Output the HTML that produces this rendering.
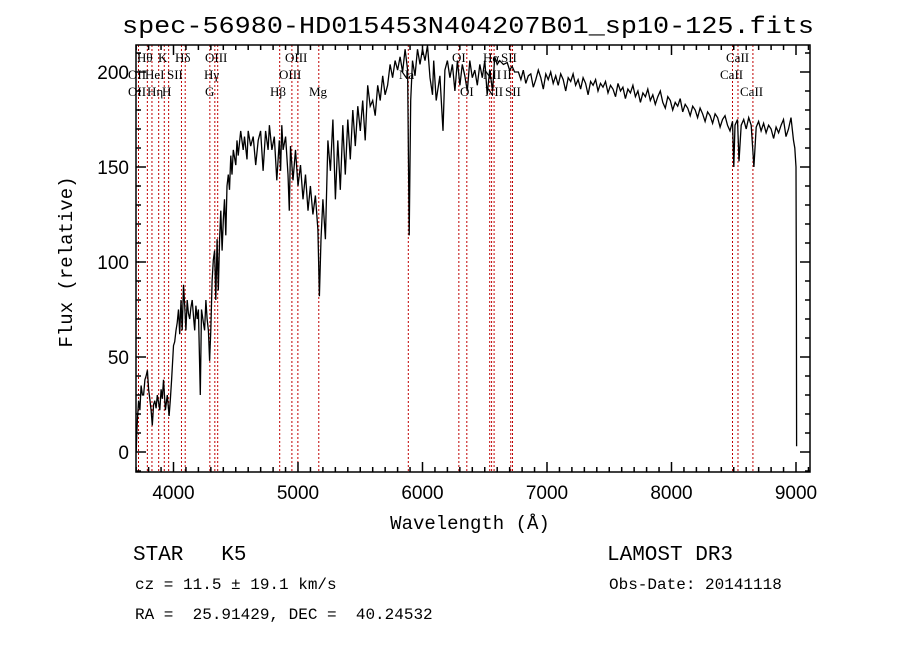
<!DOCTYPE html>
<html><head><meta charset="utf-8"><style>
html,body{margin:0;padding:0;background:#fff;}
svg{display:block;}
text{font-family:"Liberation Serif",serif;fill:#000;white-space:pre;}
.tk{font-family:"Liberation Sans",sans-serif;font-size:19px;}
.mono{font-family:"Liberation Mono",monospace;}
.ln{font-size:13px;}
</style></head><body>
<svg id="chart" width="900" height="649" viewBox="0 0 900 649" xml:space="preserve">
<rect x="0" y="0" width="900" height="649" fill="#fff"/>
<text x="468" y="33" text-anchor="middle" class="mono" font-size="24" textLength="692" lengthAdjust="spacingAndGlyphs">spec-56980-HD015453N404207B01_sp10-125.fits</text>
<g id="lines"></g>
<g id="labels">
<text class="ln" x="137" y="62">Hθ</text>
<text class="ln" x="158" y="62">K</text>
<text class="ln" x="175" y="62">Hδ</text>
<text class="ln" x="205" y="62">OIII</text>
<text class="ln" x="285" y="62">OIII</text>
<text class="ln" x="452" y="62">OI</text>
<text class="ln" x="483" y="62">Hα</text>
<text class="ln" x="501" y="62">SII</text>
<text class="ln" x="726" y="62">CaII</text>
<text class="ln" x="128" y="79">OII</text>
<text class="ln" x="145" y="79">HeI</text>
<text class="ln" x="167" y="79">SII</text>
<text class="ln" x="204" y="79">Hγ</text>
<text class="ln" x="279" y="79">OIII</text>
<text class="ln" x="399" y="79">Na</text>
<text class="ln" x="483" y="79">NII</text>
<text class="ln" x="503" y="79">II</text>
<text class="ln" x="720" y="79">CaII</text>
<text class="ln" x="128" y="96">OII</text>
<text class="ln" x="147" y="96">Hη</text>
<text class="ln" x="162" y="96">H</text>
<text class="ln" x="205" y="96">G</text>
<text class="ln" x="270" y="96">Hβ</text>
<text class="ln" x="309" y="96">Mg</text>
<text class="ln" x="460" y="96">OI</text>
<text class="ln" x="485" y="96">NII</text>
<text class="ln" x="505" y="96">SII</text>
<text class="ln" x="740" y="96">CaII</text>
</g>
<path id="spec" fill="none" stroke="#000" stroke-width="1.3" stroke-linejoin="miter"/>
<g id="axes"></g>
<text x="470" y="529" text-anchor="middle" class="mono" font-size="19">Wavelength (Å)</text>
<text transform="translate(72,262) rotate(-90)" text-anchor="middle" class="mono" font-size="19">Flux (relative)</text>
<text x="133" y="560" class="mono" font-size="21">STAR   K5</text>
<text x="607" y="560" class="mono" font-size="21">LAMOST DR3</text>
<text x="135" y="589" class="mono" font-size="16">cz = 11.5 ± 19.1 km/s</text>
<text x="609" y="589" class="mono" font-size="16">Obs-Date: 20141118</text>
<text x="135" y="619" class="mono" font-size="16">RA =  25.91429, DEC =  40.24532</text>
</svg>
<script>
const wavelengthsBlue = [3700,3705,3710,3720,3730,3740,3750,3760,3770,3780,3790,3800,3810,3820,3830,3840,3850,3860,3870,3880,3890,3900,3910,3920,3935,3950,3965,3975,3985,4000,4010,4020,4030,4040,4050,4060,4070,4080,4090,4100,4110,4120,4130,4140,4150,4160,4170,4180,4190,4200,4215,4225,4240,4250,4260,4270,4280,4290,4300,4310,4320,4330,4340,4350,4360,4370,4380,4390,4400,4410,4420,4430,4440,4450,4460,4470,4480,4500,4510,4520,4540,4560,4570,4590,4600,4620,4640,4660,4680,4700,4720,4740,4760,4770,4790,4810,4830,4850,4860,4870,4880,4900,4920,4930,4940,4960,4980,5000,5020,5040,5060,5080,5100,5120,5140,5160,5172,5185,5200,5220,5240,5260,5280,5300,5320,5340,5360,5380,5400,5420,5440,5460,5480,5500,5520,5540,5560,5580,5600,5620,5640,5660,5680,5700,5720,5740,5760,5780,5800,5820,5840,5860,5880,5893,5905,5920,5940,5960,5980,6000,6020,6040,6060,6080,6090,6110,6140,6165,6180,6200,6220,6240,6260,6280,6300,6320,6340,6360,6380,6400,6420,6440,6460,6480,6500,6520,6540,6563,6580,6600,6620,6650,6680,6700,6720,6740];
const fluxesBlue = [0,10,17,27,22,35,30,30,38,40,43,33,28,22,14,25,27,23,30,26,22,33,28,38,22,30,19,28,38,56,58,64,68,75,62,80,64,88,77,64,80,73,70,76,80,72,64,77,70,75,30,75,68,64,80,70,64,48,64,90,101,106,80,112,85,112,127,106,122,133,114,140,146,138,156,146,159,151,164,156,169,159,166,154,169,161,166,151,164,169,148,169,159,172,159,166,143,164,148,172,159,166,146,127,161,143,159,140,151,133,146,127,140,125,135,117,82,112,133,112,164,148,175,133,164,138,172,146,175,154,180,161,182,169,185,164,193,182,185,177,193,185,198,188,193,204,197,206,201,208,200,212,201,114,185,206,198,212,204,212,206,214,197,188,206,185,198,169,201,206,197,204,190,206,193,204,198,190,206,197,201,193,204,197,206,188,201,190,208,204,206,204,205,201,203,200];
const wavelengthsRed = [6770,6790,6810,6830,6850,6870,6890,6910,6930,6950,6970,6990,7010,7030,7050,7070,7090,7110,7130,7150,7170,7190,7210,7230,7250,7270,7290,7310,7330,7350,7370,7390,7410,7430,7450,7470,7490,7510,7530,7550,7570,7590,7610,7630,7650,7670,7690,7710,7730,7750,7770,7790,7810,7830,7850,7870,7890,7910,7930,7950,7970,7990,8010,8030,8050,8070,8090,8110,8130,8150,8170,8190,8210,8230,8250,8270,8290,8310,8330,8350,8370,8390,8410,8430,8450,8470,8490,8500,8510,8530,8542,8560,8580,8600,8620,8640,8662,8680,8700,8720,8740,8760,8780,8800,8820,8840,8860,8880,8900,8920,8940,8960,8980,8990,9000,9003,9005];
const fluxesRed = [200,196,201,194,198,199,192,196,201,197,191,199,196,200,194,198,193,199,196,190,197,195,199,193,196,191,197,194,188,195,193,196,190,194,192,195,189,193,191,187,194,190,192,186,191,189,193,187,190,184,189,187,191,185,188,183,187,190,184,181,187,185,180,184,182,186,179,183,181,177,182,180,176,181,178,174,179,177,173,178,176,171,175,177,172,169,174,150,172,175,153,172,175,170,176,172,150,171,174,169,173,168,172,170,165,171,168,172,175,166,170,176,164,160,150,80,3];
const xTicks = [4000,5000,6000,7000,8000,9000];
const yTicks = [0,50,100,150,200];
const lineWaves = [3727,3798,3835,3889,3934,3969,4072,4102,4300,4340,4363,4861,4959,5007,5175,5894,6300,6364,6548,6563,6583,6717,6731,8498,8542,8662];

const X0=136,X1=810,Y0=45,Y1=472;
function xs(w){return 298+(w-5000)*0.1245;}
function ys(f){return 452-f*1.9;}
const NS='http://www.w3.org/2000/svg';

const lg=document.getElementById('lines');
lineWaves.forEach(w=>{
  const l=document.createElementNS(NS,'line');
  
  
  l.setAttribute('x1',xs(w)-1);l.setAttribute('x2',xs(w)-1);
  l.setAttribute('y1',Y0);l.setAttribute('y2',Y1);
  l.setAttribute('stroke','#c00000');l.setAttribute('stroke-width','1');
  l.setAttribute('stroke-dasharray','2,2');
  lg.appendChild(l);
});

const W=wavelengthsBlue.concat(wavelengthsRed);
const F=fluxesBlue.concat(fluxesRed);
let d='';
const n=Math.min(W.length,F.length);
for(let i=0;i<n;i++){
  const y=Math.max(Y0,Math.min(Y1,ys(F[i])));
  d+=(i?'L':'M')+xs(W[i]).toFixed(1)+','+y.toFixed(1);
}
document.getElementById('spec').setAttribute('d',d);

const ax=document.getElementById('axes');
function ln(x1,y1,x2,y2,name){
  const l=document.createElementNS(NS,'line');
  
  
  l.setAttribute('x1',x1);l.setAttribute('y1',y1);l.setAttribute('x2',x2);l.setAttribute('y2',y2);
  l.setAttribute('stroke','#000');l.setAttribute('stroke-width','1.5');
  ax.appendChild(l);
}
function tx(x,y,s,anchor,name){
  const t=document.createElementNS(NS,'text');
  
  
  t.setAttribute('x',x);t.setAttribute('y',y);t.setAttribute('text-anchor',anchor);
  t.setAttribute('class','tk');t.textContent=s;
  ax.appendChild(t);
}
const r=document.createElementNS(NS,'rect');


r.setAttribute('x',X0);r.setAttribute('y',Y0);r.setAttribute('width',X1-X0);r.setAttribute('height',Y1-Y0);
r.setAttribute('fill','none');r.setAttribute('stroke','#000');r.setAttribute('stroke-width','1.5');
ax.appendChild(r);
for(let w=3700;w<=9100;w+=100){
  const x=xs(w); if(x<X0||x>X1) continue;
  const len=(w%1000===0)?10:5;
  ln(x,Y1,x,Y1-len,'x-tick');ln(x,Y0,x,Y0+len,'x-tick');
}
xTicks.forEach(w=>tx(xs(w),499,String(w),'middle','x-tick-label'));
for(let f=-10;f<=210;f+=10){
  const y=ys(f); if(y<Y0||y>Y1) continue;
  const len=(f%50===0)?10:5;
  ln(X0,y,X0+len,y,'y-tick');ln(X1,y,X1-len,y,'y-tick');
}
yTicks.forEach(f=>tx(129,ys(f)+7,String(f),'end','y-tick-label'));
</script>
</body></html>
